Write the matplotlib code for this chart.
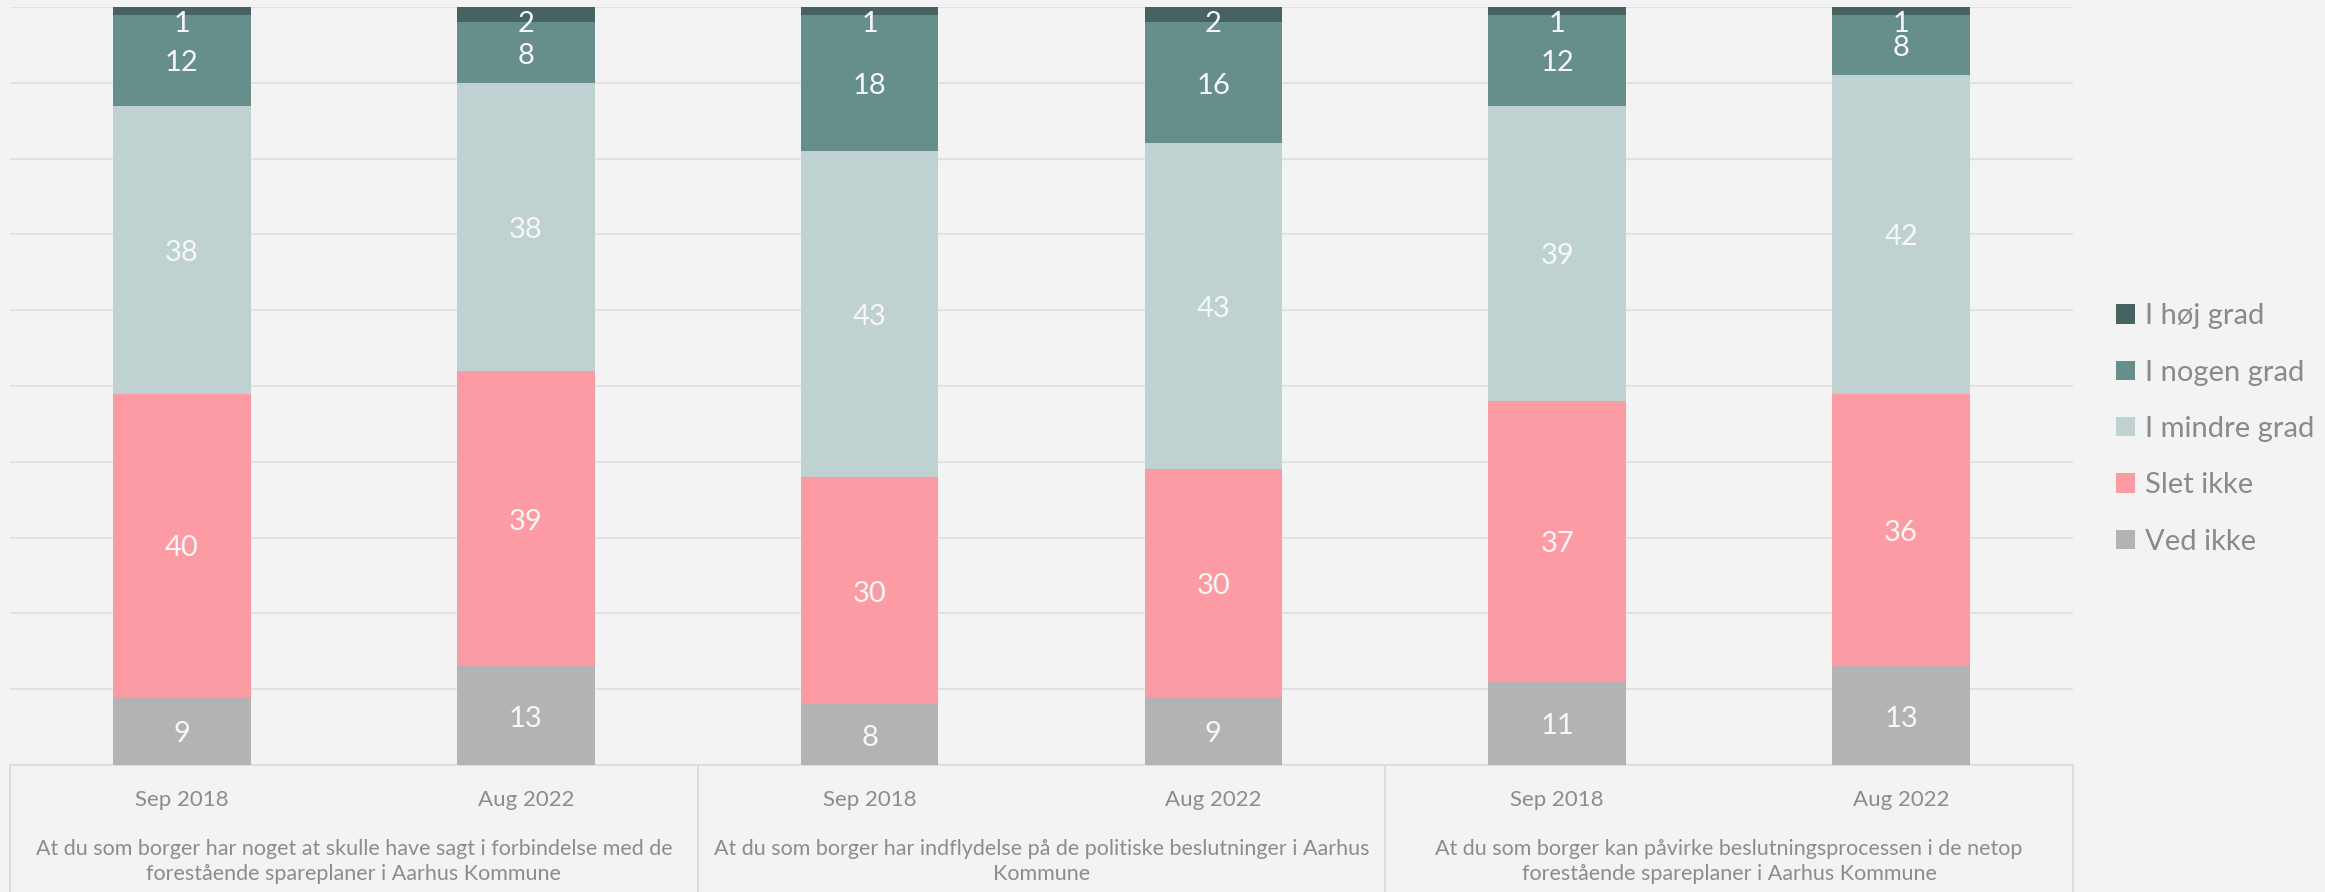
import matplotlib.pyplot as plt
import numpy as np

plt.rcParams['font.family'] = ['Lato', 'DejaVu Sans']

# --- data ---
periods = ['Sep 2018', 'Aug 2022', 'Sep 2018', 'Aug 2022', 'Sep 2018', 'Aug 2022']
questions = [
    'At du som borger har noget at skulle have sagt i forbindelse med de\nforestående spareplaner i Aarhus Kommune',
    'At du som borger har indflydelse på de politiske beslutninger i Aarhus\nKommune',
    'At du som borger kan påvirke beslutningsprocessen i de netop\nforestående spareplaner i Aarhus Kommune',
]
categories = ['Ved ikke', 'Slet ikke', 'I mindre grad', 'I nogen grad', 'I høj grad']
ved_ikke = [9, 13, 8, 9, 11, 13]
slet_ikke = [40, 39, 30, 30, 37, 36]
i_mindre_grad = [38, 38, 43, 43, 39, 42]
i_nogen_grad = [12, 8, 18, 16, 12, 8]
i_hoej_grad = [1, 2, 1, 2, 1, 1]
series = [ved_ikke, slet_ikke, i_mindre_grad, i_nogen_grad, i_hoej_grad]
colors = ['#b3b3b3', '#fd9ba4', '#bfd2d1', '#668e8b', '#476361']

bg = '#f3f3f3'
fig = plt.figure(figsize=(23.25, 8.92), dpi=100, facecolor=bg)
ax = fig.add_axes([10 / 2325, 1 - 765 / 892, 2063 / 2325, 758 / 892], facecolor=bg)

x = np.arange(len(periods))
bottom = np.zeros(len(periods))
bars = []
for vals, col, name in zip(series, colors, categories):
    vals = np.array(vals)
    b = ax.bar(x, vals, 0.4, bottom=bottom, color=col, label=name, zorder=3)
    bars.append(b)
    # value labels, small top segments pushed down so they stay inside the plot
    for xi, v, b0 in zip(x, vals, bottom):
        yc = min(b0 + v / 2 - 0.4, 97.8)
        ax.text(xi, yc, str(v), ha='center', va='center', fontsize=21,
                color='#f7f7f7', fontweight='normal', zorder=4)
    bottom += vals

ax.set_xlim(-0.5, len(periods) - 0.5)
ax.set_ylim(0, 100)
ax.set_yticks(np.arange(0, 101, 10))
ax.yaxis.grid(True, color='#e2e2e2', linewidth=1.5, zorder=0)
ax.tick_params(axis='y', left=False, labelleft=False)
for s in ax.spines.values():
    s.set_visible(False)

ax.set_xticks(x)
ax.set_xticklabels(periods, fontsize=16, color='#8c8c8c', fontweight='normal')
ax.tick_params(axis='x', length=0, pad=18)

# group box under the axis
tr = ax.get_xaxis_transform()
ax.plot([-0.5, len(periods) - 0.5], [0, 0], transform=tr, color='#dcdcdc', lw=1.5, clip_on=False)
for sep in [-0.5, 1.5, 3.5, 5.5]:
    ax.plot([sep, sep], [0, -0.17], transform=tr, color='#dcdcdc', lw=1.5, clip_on=False)
for i, q in enumerate(questions):
    ax.text(2 * i + 0.5, -0.127, q, transform=tr, ha='center', va='center',
            fontsize=15.5, color='#8c8c8c', fontweight='normal', linespacing=1.28)

handles = bars[::-1]
labels = categories[::-1]
fig.legend(handles, labels, loc='center left', bbox_to_anchor=(2101 / 2325, 1 - 429 / 892),
           frameon=False, labelcolor='#8a8a8a', handlelength=0.65,
           handleheight=0.65, handletextpad=0.35, labelspacing=1.04, borderpad=0,
           prop={'weight': 'normal', 'size': 21})

fig.savefig('out.png', dpi=100, facecolor=bg)
